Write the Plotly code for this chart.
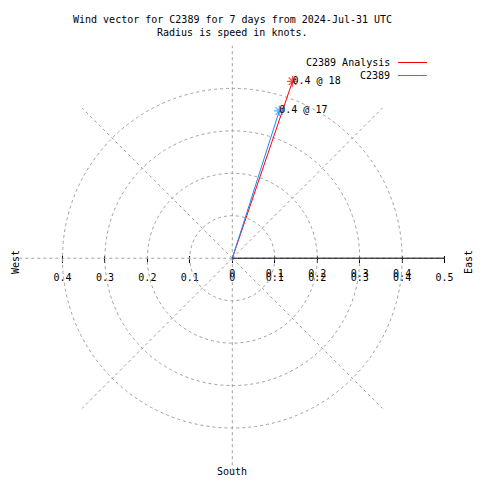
import plotly.graph_objects as go

# ---- data ----
series_names = ["C2389 Analysis", "C2389"]
speeds_kt = [0.44, 0.364]          # radius = speed in knots
directions_deg = [18.8, 17.7]      # compass direction (clockwise from north)
point_labels = ["0.4 @ 18", "0.4 @ 17"]
series_colors = ["#ff0000", "#1a88ff"]

r_ticks = [0.1, 0.2, 0.3, 0.4, 0.5]
x_tickvals = [-0.4, -0.3, -0.2, -0.1, 0, 0.1, 0.2, 0.3, 0.4, 0.5]
x_ticktext = ["0.4", "0.3", "0.2", "0.1", "0", "0.1", "0.2", "0.3", "0.4", "0.5"]
dup_tickvals = [0, 0.1, 0.2, 0.3, 0.4]
dup_ticktext = ["0", "0.1", "0.2", "0.3", "0.4"]

title_lines = ["Wind vector for C2389 for 7 days from 2024-Jul-31 UTC",
               "Radius is speed in knots."]

# ---- geometry (pixels in a 480x480 picture) ----
W = H = 480
cx, cy = 232.3, 258.2
R = 212.5
RMAX = 0.5005
xdom = [(cx - R) / W, (cx + R) / W]
ydom = [1 - (cy + R) / H, 1 - (cy - R) / H]

FONT = "DejaVu Sans Mono"
GRID = "#a0a0a0"
DASH = "3px,3px"

fig = go.Figure()

for name, sp, d, col in zip(series_names, speeds_kt, directions_deg,
                            series_colors):
    fig.add_trace(go.Scatterpolar(
        r=[0, sp], theta=[0, d], name=name,
        mode="lines+markers",
        line=dict(color=col, width=1),
        marker=dict(symbol="asterisk-open", size=[0, 9],
                    line=dict(color=col, width=1.2), color=col),
        showlegend=False, hoverinfo="skip",
    ))

for sp, d, lab in zip(speeds_kt, directions_deg, point_labels):
    fig.add_trace(go.Scatterpolar(
        r=[sp], theta=[d], mode="text", text=[lab],
        textposition="middle right",
        textfont=dict(family=FONT, size=10, color="black"),
        showlegend=False, hoverinfo="skip",
    ))

fig.add_trace(go.Scatter(x=[-0.5, 0.5], y=[0, 0], mode="lines",
                         line=dict(width=0), showlegend=False,
                         hoverinfo="skip", xaxis="x", yaxis="y"))
fig.add_trace(go.Scatter(x=[-0.5, 0.5], y=[0, 0], mode="lines",
                         line=dict(width=0), showlegend=False,
                         hoverinfo="skip", xaxis="x2", yaxis="y"))

fig.update_layout(
    template="none",
    width=W, height=H,
    margin=dict(l=0, r=0, t=0, b=0, autoexpand=False),
    paper_bgcolor="white", plot_bgcolor="rgba(0,0,0,0)",
    showlegend=False,
    font=dict(family=FONT, size=10, color="black"),
    polar=dict(
        domain=dict(x=xdom, y=ydom),
        bgcolor="rgba(0,0,0,0)",
        radialaxis=dict(range=[0, RMAX], angle=0, tickvals=r_ticks,
                        showticklabels=False, ticks="",
                        showline=True, linecolor="black", linewidth=1,
                        gridcolor=GRID, griddash=DASH, gridwidth=1),
        angularaxis=dict(rotation=90, direction="clockwise", dtick=45,
                         showticklabels=False, ticks="", showline=False,
                         gridcolor=GRID, griddash=DASH, gridwidth=1),
    ),
    xaxis=dict(domain=xdom, range=[-RMAX, RMAX], anchor="free",
               position=1 - (cy - 3) / H, automargin=False,
               tickvals=x_tickvals, ticktext=x_ticktext,
               ticks="outside", ticklen=7, tickcolor="black", tickwidth=1,
               ticklabelstandoff=6,
               showline=False, showgrid=False, zeroline=False,
               tickfont=dict(family=FONT, size=10, color="black"),
               fixedrange=True),
    xaxis2=dict(domain=xdom, range=[-RMAX, RMAX], anchor="free",
                overlaying="x", automargin=False,
                position=1 - (cy - 7) / H,
                tickvals=dup_tickvals, ticktext=dup_ticktext,
                ticks="outside", ticklen=7, tickcolor="rgba(0,0,0,0)",
                ticklabelstandoff=6,
                showline=False, showgrid=False, zeroline=False,
                tickfont=dict(family=FONT, size=10, color="black"),
                fixedrange=True),
    yaxis=dict(domain=ydom, range=[-RMAX, RMAX], visible=False,
               automargin=False, fixedrange=True),
)

def px(x, y):
    return x / W, 1 - y / H

annotations = []
for i, line in enumerate(title_lines):
    x, y = px(232, 20 + 13 * i)
    annotations.append(dict(x=x, y=y, xref="paper", yref="paper",
                            text=line, showarrow=False,
                            xanchor="center", yanchor="middle",
                            font=dict(family=FONT, size=10)))

for txt, (x, y), ang in [("West", (15, 262), -90), ("East", (468, 262), -90),
                         ("South", (232, 471), 0)]:
    xx, yy = px(x, y)
    annotations.append(dict(x=xx, y=yy, xref="paper", yref="paper",
                            text=txt, showarrow=False, textangle=ang,
                            xanchor="center", yanchor="middle",
                            font=dict(family=FONT, size=10)))

shapes = []
for i, (name, col) in enumerate(zip(series_names, series_colors)):
    yline = 62.5 + 13 * i
    xx, yy = px(392, yline)
    annotations.append(dict(x=xx, y=yy, xref="paper", yref="paper",
                            text=name, showarrow=False,
                            xanchor="right", yanchor="middle",
                            font=dict(family=FONT, size=10)))
    x0, y0 = px(398, yline)
    x1, _ = px(427, yline)
    shapes.append(dict(type="line", xref="paper", yref="paper",
                       x0=x0, x1=x1, y0=y0, y1=y0,
                       line=dict(color=col, width=1)))

fig.update_layout(annotations=annotations, shapes=shapes)

fig.write_html("out.html",
               config=dict(displayModeBar=False),
               post_script="document.body.style.margin='0';"
                           "document.body.style.overflow='hidden';")
